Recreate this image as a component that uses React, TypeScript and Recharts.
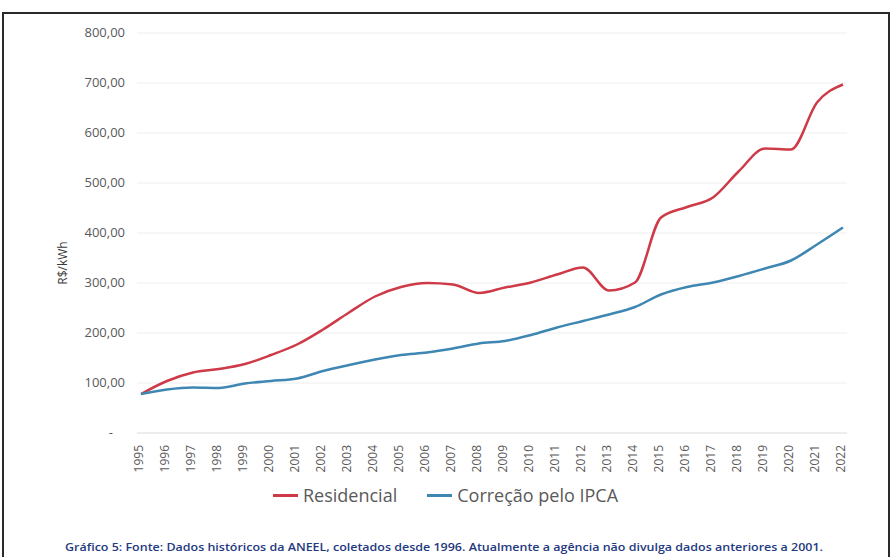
import {
  LineChart,
  Line,
  XAxis,
  YAxis,
  CartesianGrid,
  Legend,
} from 'recharts';

const years = [
  '1995', '1996', '1997', '1998', '1999', '2000', '2001', '2002', '2003', '2004',
  '2005', '2006', '2007', '2008', '2009', '2010', '2011', '2012', '2013', '2014',
  '2015', '2016', '2017', '2018', '2019', '2020', '2021', '2022',
];

const residencial = [
  78, 104, 121, 128, 138, 156, 177, 207, 241, 273,
  292, 300, 297, 280, 291, 301, 317, 331, 285, 301,
  431, 452, 471, 524, 569, 567, 661, 697,
];

const correcaoIpca = [
  78, 87, 91, 90, 99, 104, 109, 124, 136, 147,
  156, 161, 169, 179, 184, 196, 211, 224, 237, 252,
  277, 292, 301, 314, 329, 345, 377, 411,
];

const yTicks = [0, 100, 200, 300, 400, 500, 600, 700, 800];

const seriesNames = ['Residencial', 'Correção pelo IPCA'];
const caption =
  'Gráfico 5: Fonte: Dados históricos da ANEEL, coletados desde 1996. Atualmente a agência não divulga dados anteriores a 2001.';

const RED = '#cf3a48';
const BLUE = '#3e87b3';
const FONT = '"Open Sans", sans-serif';

const data = years.map((year, i) => ({
  year,
  residencial: residencial[i],
  ipca: correcaoIpca[i],
}));

const fmt = (v: number) => v.toFixed(2).replace('.', ',');

function YTick({ x, y, payload }: any) {
  const isZero = payload.value === 0;
  return (
    <text
      x={isZero ? x - 12 : x}
      y={y}
      dy={4}
      textAnchor="end"
      fill="#595959"
      fontSize={13}
      fontFamily={FONT}
    >
      {isZero ? '-' : fmt(payload.value)}
    </text>
  );
}

function XTick({ x, y, payload }: any) {
  const bx = x + 1.5;
  const by = y + 4;
  return (
    <text
      x={bx}
      y={by}
      transform={`rotate(-90, ${bx}, ${by})`}
      textAnchor="end"
      fill="#595959"
      fontSize={12}
      fontFamily={FONT}
    >
      {payload.value}
    </text>
  );
}

function YLabel({ viewBox }: any) {
  const x = viewBox.x - 14;
  const y = viewBox.y + viewBox.height * 0.575;
  return (
    <text
      x={x}
      y={y}
      transform={`rotate(-90, ${x}, ${y})`}
      textAnchor="middle"
      fill="#3a3a3a"
      fontSize={12}
      fontFamily={FONT}
    >
      R$/kWh
    </text>
  );
}

function LegendContent() {
  const items = [
    { name: seriesNames[0], color: RED },
    { name: seriesNames[1], color: BLUE },
  ];
  return (
    <div style={{ display: 'flex', alignItems: 'center', fontFamily: FONT }}>
      {items.map((it, i) => (
        <div
          key={it.name}
          style={{ display: 'flex', alignItems: 'center', marginLeft: i ? 30 : 0 }}
        >
          <span
            style={{
              display: 'inline-block',
              width: 25,
              height: 3,
              background: it.color,
              marginRight: 5,
            }}
          />
          <span style={{ fontSize: 18, color: '#595959' }}>{it.name}</span>
        </div>
      ))}
    </div>
  );
}

export default function App() {
  return (
    <div
      style={{
        position: 'fixed',
        left: 0,
        top: 0,
        width: 893,
        height: 557,
        background: '#fff',
        overflow: 'hidden',
      }}
    >
      <div
        style={{
          position: 'absolute',
          left: 2,
          top: 12,
          width: 888,
          height: 600,
          border: '2px solid #2a2a2a',
          boxSizing: 'border-box',
        }}
      />
      <LineChart
        width={893}
        height={515}
        data={data}
        margin={{ top: 33, right: 46, left: 81, bottom: 8 }}
        style={{ position: 'absolute', left: 0, top: 0 }}
      >
        <CartesianGrid vertical={false} stroke="#eeeeee" />
        <XAxis
          dataKey="year"
          interval={0}
          height={50}
          padding={{ left: 4, right: 4 }}
          tickLine={false}
          axisLine={{ stroke: '#e3e3e3' }}
          tick={<XTick />}
        />
        <YAxis
          width={56}
          domain={[0, 800]}
          ticks={yTicks}
          tickSize={0}
          tickMargin={12}
          axisLine={false}
          tickLine={false}
          tick={<YTick />}
          label={<YLabel />}
        />
        <Legend
          verticalAlign="bottom"
          content={<LegendContent />}
          wrapperStyle={{ left: 273, width: 'auto' }}
        />
        <Line
          type="monotone"
          dataKey="residencial"
          name={seriesNames[0]}
          stroke={RED}
          strokeWidth={2.5}
          dot={false}
          isAnimationActive={false}
        />
        <Line
          type="monotone"
          dataKey="ipca"
          name={seriesNames[1]}
          stroke={BLUE}
          strokeWidth={2.5}
          dot={false}
          isAnimationActive={false}
        />
      </LineChart>
      <svg
        width={893}
        height={20}
        style={{ position: 'absolute', left: 0, top: 537 }}
      >
        <text
          x={65}
          y={14}
          textLength={758}
          lengthAdjust="spacingAndGlyphs"
          fill="#1f3a80"
          fontSize={10.5}
          fontWeight={600}
          fontFamily={FONT}
        >
          {caption}
        </text>
      </svg>
    </div>
  );
}
